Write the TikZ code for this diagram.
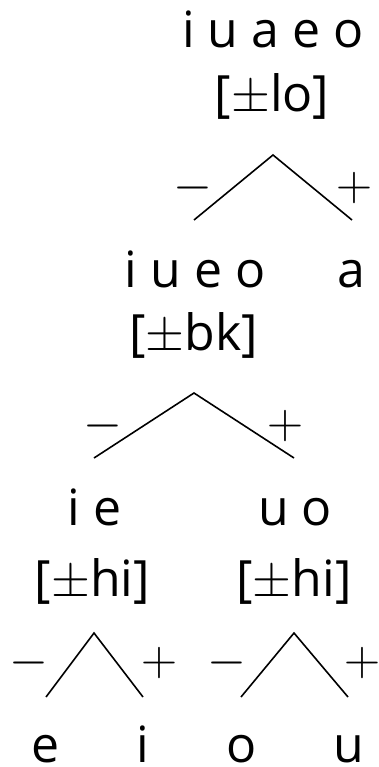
\RequirePackage{fix-cm}
\documentclass[tikz,border=0pt]{standalone}
\usepackage{fontspec}
\setmainfont{Open Sans}
\begin{document}
\begin{tikzpicture}[x=1pt,y=-1pt,
  lbl/.style={inner sep=0pt, anchor=base, font=\fontsize{50}{60}\selectfont},
  sign/.style={inner sep=0pt, font=\fontsize{50}{60}\selectfont},
  branch/.style={line width=1.6pt, line join=miter}]
\useasboundingbox (0,0) rectangle (379,767);

% root: [lo] split
\node[lbl] (root)  at (273,48)  {i u a e o};
\node[lbl] (rootf) at (272,112) {[$\pm$lo]};
\coordinate (ra) at (273,155);
\coordinate (rl) at (194,220);
\coordinate (rr) at (352,220);
\draw[branch] (rl) -- (ra) -- (rr);
\node[sign] (rm) at (192.5,188) {$-$};
\node[sign] (rp) at (354,188) {$+$};

% second level: [bk] split
\node[lbl] (nl)  at (195,287)   {i u e o};
\node[lbl] (na)  at (351.5,287) {a};
\node[lbl] (nlf) at (193.5,350) {[$\pm$bk]};
\coordinate (ba) at (194,393);
\coordinate (bl) at (94,458);
\coordinate (br) at (294,458);
\draw[branch] (bl) -- (ba) -- (br);
\node[sign] (bm) at (103,426) {$-$};
\node[sign] (bp) at (285,426) {$+$};

% third level: [hi] splits
\node[lbl] (fr)  at (94.5,525) {i e};
\node[lbl] (bk)  at (295,525)  {u o};
\node[lbl] (frf) at (92.5,596) {[$\pm$hi]};
\node[lbl] (bkf) at (294,596)  {[$\pm$hi]};

\coordinate (fa) at (94,633);
\coordinate (fl) at (46,697);
\coordinate (fr2) at (143,697);
\draw[branch] (fl) -- (fa) -- (fr2);
\node[sign] (fm) at (28.5,663)  {$-$};
\node[sign] (fp) at (159.5,663) {$+$};

\coordinate (ka) at (294,633);
\coordinate (kl) at (241,697);
\coordinate (kr) at (348,697);
\draw[branch] (kl) -- (ka) -- (kr);
\node[sign] (km) at (226.5,663) {$-$};
\node[sign] (kp) at (362.5,663) {$+$};

% leaves
\node[lbl] (le) at (45.5,762) {e};
\node[lbl] (li) at (142.5,762) {i};
\node[lbl] (lo) at (241.5,762) {o};
\node[lbl] (lu) at (349,762) {u};
\end{tikzpicture}
\end{document}
